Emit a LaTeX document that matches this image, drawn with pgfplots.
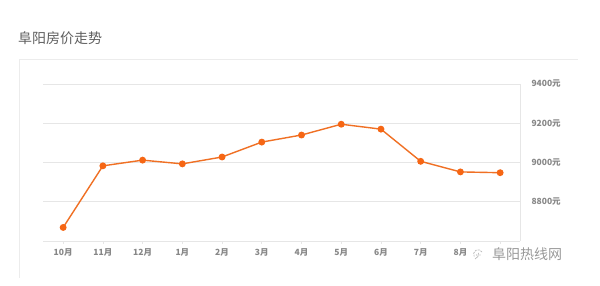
\documentclass[border=0pt]{standalone}
\usepackage{fontspec}
\setmainfont{Noto Sans CJK SC}
\usepackage{pgfplots}
\pgfplotsset{compat=1.18}
\definecolor{lineorange}{RGB}{240,112,36}
\definecolor{markorange}{RGB}{246,102,20}
\definecolor{gridgray}{RGB}{230,230,230}
\definecolor{cardgray}{RGB}{236,236,236}
\definecolor{labelgray}{RGB}{135,135,135}
\definecolor{titlegray}{RGB}{95,95,95}

\begin{document}
\begin{tikzpicture}[x=1pt,y=1pt]
\path[use as bounding box, fill=white] (0,0) rectangle (600,286);
% card border (top and left)
\draw[cardgray, line width=0.8pt] (19,8) -- (19,226.5) -- (578,226.5);
\node[anchor=west, font=\fontsize{14}{16}\selectfont, text=titlegray, inner sep=0pt] at (18,248) {阜阳房价走势};

\begin{axis}[
    at={(43.3pt,45pt)}, anchor=south west,
    width=476.7pt, height=157pt, scale only axis,
    xmin=-0.5, xmax=11.5,
    ymin=8600, ymax=9400,
    axis x line=bottom, axis y line=right,
    axis line style={draw=gridgray, line width=0.8pt, -},
    xtick={0,...,11},
    xticklabels={10月,11月,12月,1月,2月,3月,4月,5月,6月,7月,8月,},
    ytick={8800,9000,9200,9400},
    yticklabels={8800元,9000元,9200元,9400元},
    ymajorgrids, major grid style={draw=gridgray, line width=0.8pt},
    x tick style={draw=gridgray, line width=0.6pt},
    major tick length=3pt, tick align=outside,
    y tick style={draw=none},
    ticklabel style={text=labelgray, font=\fontsize{8.5}{10}\selectfont\bfseries},
    xticklabel style={yshift=-1pt},
    yticklabel style={anchor=west, xshift=5pt},
    clip=false,
]
\addplot[lineorange, line width=1.4pt, mark=*, mark size=2.7pt,
    mark options={fill=markorange, draw=markorange}] coordinates {
    (0,8669) (1,8983) (2,9012) (3,8993) (4,9028) (5,9104)
    (6,9140) (7,9195) (8,9170) (9,9006) (10,8952) (11,8948)
};
\end{axis}
% watermark
\node[anchor=west, font=\fontsize{14}{16}\selectfont, text=gray!80, inner sep=0pt] at (492,32) {阜阳热线网};
\draw[gray!55, line width=0.7pt, dash pattern=on 2pt off 1pt] (482,34) arc (30:210:4.5);
\draw[gray!55, line width=0.7pt] (475,27) arc (-70:10:5.5);
\fill[gray!55] (476.5,31) circle (0.6) (480,31) circle (0.6);
\end{tikzpicture}
\end{document}
